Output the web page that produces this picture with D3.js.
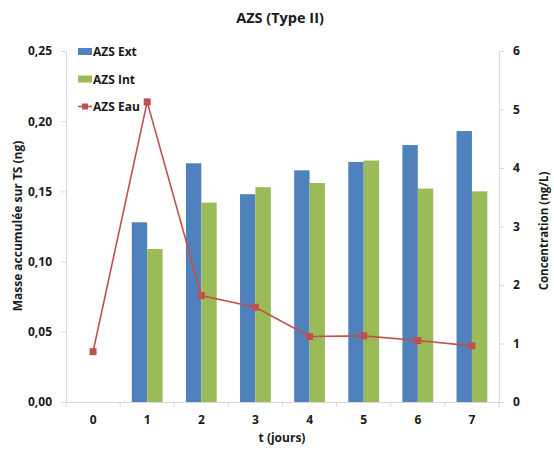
<!DOCTYPE html>
<html><head><meta charset="utf-8">
<script src="https://cdn.jsdelivr.net/npm/d3@7"></script>
<style>body{margin:0;background:#fff;} svg{display:block;font-family:"Open Sans",sans-serif;}</style>
</head><body><svg id="c" width="554" height="450"></svg>
<script>
const categories = ["0","1","2","3","4","5","6","7"];
const azsExt = [null,0.128,0.170,0.148,0.165,0.171,0.183,0.193];
const azsInt = [null,0.109,0.142,0.153,0.156,0.172,0.152,0.150];
const azsEau = [0.86,5.13,1.82,1.62,1.12,1.13,1.05,0.96];
const leftTicks = [0,0.05,0.10,0.15,0.20,0.25];
const rightTicks = [0,1,2,3,4,5,6];

const svg = d3.select("#c");
const L = 66, R = 499, T = 51, B = 402;
const x = d3.scaleBand().domain(categories).range([L,R]);
const yL = d3.scaleLinear().domain([0,0.25]).range([B,T]);
const yR = d3.scaleLinear().domain([0,6]).range([B,T]);
const axisColor = "#d9d9d9";
const fmt = d => d3.format(".2f")(d).replace(".",",");

// bars
const bw = 15.4;
const bars = svg.append("g");
categories.forEach((c,i)=>{
  const cx = x(c)+x.bandwidth()/2;
  if(azsExt[i]!=null) bars.append("rect").attr("x",cx-bw).attr("width",bw).attr("y",yL(azsExt[i])).attr("height",B-yL(azsExt[i])).attr("fill","#4f81bd");
  if(azsInt[i]!=null) bars.append("rect").attr("x",cx).attr("width",bw).attr("y",yL(azsInt[i])).attr("height",B-yL(azsInt[i])).attr("fill","#9bbb59");
});

// axes
const gl = svg.append("g").attr("transform",`translate(${L},0)`).call(d3.axisLeft(yL).tickValues(leftTicks).tickFormat(fmt).tickSize(5).tickPadding(9));
const gr = svg.append("g").attr("transform",`translate(${R},0)`).call(d3.axisRight(yR).tickValues(rightTicks).tickFormat(d3.format("d")).tickSize(5).tickPadding(9));
const gb = svg.append("g").attr("transform",`translate(0,${B})`).call(d3.axisBottom(x).tickSize(0).tickPadding(13));
// band boundary ticks
gb.selectAll(".bt").data(categories.concat(["end"])).enter().append("line")
  .attr("x1",(d,i)=>L+i*x.bandwidth()).attr("x2",(d,i)=>L+i*x.bandwidth()).attr("y1",0).attr("y2",5).attr("stroke",axisColor);
[gl,gr,gb].forEach(g=>{
  g.select(".domain").attr("stroke",axisColor);
  g.selectAll(".tick line").attr("stroke",axisColor);
  g.selectAll("text").attr("fill","#1a1a1a").attr("font-size",12).attr("font-weight","bold").attr("font-family","'Open Sans',sans-serif");
});
gb.select(".domain").attr("d",`M${L},0.5H${R}`);

// line
const line = d3.line().x((d,i)=>x(categories[i])+x.bandwidth()/2).y(d=>yR(d));
svg.append("path").datum(azsEau).attr("d",line).attr("fill","none").attr("stroke","#c0504d").attr("stroke-width",1.6);
svg.selectAll(".m").data(azsEau).enter().append("rect")
  .attr("x",(d,i)=>x(categories[i])+x.bandwidth()/2-3.5).attr("y",d=>yR(d)-3.5).attr("width",7).attr("height",7).attr("fill","#c0504d");

// title
svg.append("text").attr("x",280).attr("y",23).attr("text-anchor","middle").attr("font-size",14.5).attr("font-weight","bold").attr("fill","#1a1a1a").text("AZS (Type II)");
// axis titles
svg.append("text").attr("transform","translate(22,226) rotate(-90)").attr("text-anchor","middle").attr("font-size",12).attr("font-weight","bold").attr("fill","#1a1a1a").text("Masse accumulée sur TS (ng)");
svg.append("text").attr("transform","translate(548,231) rotate(-90)").attr("text-anchor","middle").attr("font-size",11.5).attr("font-weight","bold").attr("fill","#1a1a1a").text("Concentration (ng/L)");
svg.append("text").attr("x",282).attr("y",442).attr("text-anchor","middle").attr("font-size",12).attr("font-weight","bold").attr("fill","#1a1a1a").text("t (jours)");

// legend
const leg = [{n:"AZS Ext",t:"bar",c:"#4f81bd"},{n:"AZS Int",t:"bar",c:"#9bbb59"},{n:"AZS Eau",t:"line",c:"#c0504d"}];
leg.forEach((d,i)=>{
  const cy = 51.5 + i*27.5;
  if(d.t==="bar") svg.append("rect").attr("x",78).attr("y",cy-3.5).attr("width",14).attr("height",7).attr("fill",d.c);
  else {
    svg.append("line").attr("x1",78).attr("x2",92).attr("y1",cy).attr("y2",cy).attr("stroke",d.c).attr("stroke-width",1.6);
    svg.append("rect").attr("x",82).attr("y",cy-3).attr("width",6).attr("height",6).attr("fill",d.c);
  }
  svg.append("text").attr("x",93).attr("y",cy+4.5).attr("font-size",12).attr("font-weight","bold").attr("fill","#1a1a1a").text(d.n);
});
</script></body></html>
